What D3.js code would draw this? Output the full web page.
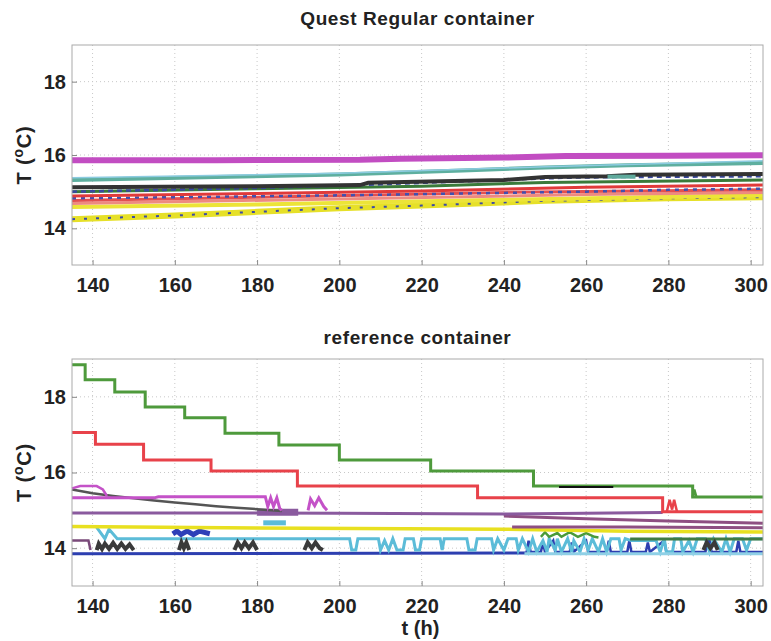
<!DOCTYPE html>
<html><head>
<meta charset="utf-8">
<title>Quest Regular vs reference container</title>
<script src="https://cdn.jsdelivr.net/npm/d3@7/dist/d3.min.js"></script>
<style>
  body { margin: 0; background: #fff; }
  svg text { font-family: "Liberation Sans", Arial, sans-serif; font-weight: bold; fill: #222; }
</style>
</head>
<body>
<svg id="chart" width="771" height="641"></svg>
<script>

// ---- data: [t (h), T (degC)] ----
const xTicks = [140, 160, 180, 200, 220, 240, 260, 280, 300];
const yTicks = [14, 16, 18];

// top panel: Quest Regular container
const qMagenta = [[135,15.86],[170,15.86],[205,15.87],[215,15.9],[240,15.93],[255,15.97],[280,15.98],[303,15.99]];
const qLightBlue = [[135,15.38],[200,15.5],[250,15.68],[303,15.84]];
const qTeal = [[135,15.32],[170,15.4],[200,15.47],[230,15.58],[250,15.66],[270,15.72],[303,15.78]];
const qBlack = [[135,15.12],[180,15.15],[205,15.18],[207,15.24],[240,15.32],[250,15.4],[265,15.42],[272,15.46],[303,15.48]];
const qTealBlock = [[265.2,15.41],[272,15.41]];
const qBlue1 = [[135,15.0],[180,15.1],[210,15.2],[240,15.32],[255,15.38],[270,15.4],[303,15.42]];
const qGreen = [[135,15.0],[180,15.08],[220,15.15],[250,15.25],[303,15.32]];
const qRed = [[135,14.88],[180,14.95],[220,15.02],[260,15.12],[303,15.18]];
const qBlue2 = [[135,14.82],[200,14.9],[260,15.0],[280,15.05],[303,15.08]];
const qRed2 = [[135,14.76],[180,14.85],[240,14.98],[303,15.05]];
const qPink = [[135,14.68],[200,14.8],[260,14.92],[303,14.98]];
const qYellow1 = [[135,14.58],[180,14.65],[240,14.78],[303,14.9]];
const qYellow2 = [[135,14.25],[160,14.35],[180,14.45],[200,14.55],[220,14.62],[250,14.75],[280,14.82],[303,14.85]];

// bottom panel: reference container
const rGreen = [[135,18.85],[138.2,18.45],[145.4,18.13],[152.8,17.73],[162.4,17.45],[172.2,17.04],[185.3,16.73],[200,16.33],[222.2,16.04],[247.2,15.64],[285.9,15.35],[303,15.35]];
const rGreenSpike = [[285.9,15.35],[286.3,15.55],[286.8,15.35]];
const rBlackSeg = [[253.4,15.62],[266.6,15.62]];
const rRed = [[135,17.06],[140.7,16.75],[152.4,16.33],[168.8,16.04],[189.8,15.64],[233.6,15.33],[278.6,14.96],[303,14.96]];
const rRedSpike = [[279.6,14.96],[280.3,15.28],[280.9,15.02],[281.4,15.28],[282.1,14.96]];
const rMagentaTop = [[135,15.58],[137,15.64],[141,15.64],[142.5,15.55],[143.5,15.38]];
const rMagenta = [[135,15.33],[143.5,15.33],[155,15.33],[156,15.36],[182,15.36],[182.6,15.1],[183.3,15.33],[184,15.1],[184.8,15.33],[185.5,15.05],[186,15.0]];
const rMagentaM = [[192.4,15.0],[193,15.3],[194,15.12],[195,15.33],[196.2,15.1],[197,15.0]];
const rGray = [[135,15.55],[140,15.45],[145,15.38],[150,15.32],[155,15.26],[160,15.21],[165,15.16],[170,15.11],[175,15.07],[180,15.03],[186,14.98]];
const rPurple1 = [[135,14.93],[180,14.93],[200,14.92],[240,14.9],[278.6,14.94]];
const rPurpleBlob = [[180,14.95],[190,14.95]];
const rPurple2 = [[240,14.85],[260,14.78],[280,14.72],[303,14.66]];
const rPurple3 = [[242,14.56],[270,14.56],[303,14.54]];
const rYellow = [[135,14.57],[180,14.53],[240,14.5],[270,14.45],[303,14.43]];
const rCyanBlock = [[181.5,14.67],[187,14.67]];
const rCyan = [[141,14.55],[143,14.25],[144,14.5],[146,14.25],[160,14.25],[202.5,14.25],[203,13.95],[204,13.95],[204.5,14.25],
  [209.5,14.25],[210,13.95],[211,14.2],[212,13.95],[213,14.25],[214,13.95],[215.5,13.95],[216,14.25],[218,14.25],[218.5,13.95],
  [219.5,13.95],[220,14.25],[224.5,14.25],[225,13.95],[225.5,14.25],[231,14.25],[231.5,13.95],[233,13.95],[233.5,14.25],
  [237,14.25],[237.5,13.95],[238.5,14.25],[240,13.95],[241,14.25],[243,14.25],[243.5,13.95],[244.5,14.25],
  [246,13.9],[247,14.25],[248,13.9],[249.5,14.2],[250.5,13.9],[251,14.25],[252.5,13.95],[253,14.25],[254,13.9],[255.5,14.25],
  [256.5,13.9],[257,14.2],[258.5,13.9],[259.5,14.25],[260.5,13.95],[261.5,14.25],[263,13.9],[264,14.25],[265,13.9],[266,14.25],
  [268,14.25],[268.5,13.95],[269.5,14.25],[271,14.2],[277,14.2],[278,13.9],[279,14.25],[279.5,13.9],[281,13.9],[281.5,14.25],
  [283,14.25],[283.5,13.9],[285,14.2],[286,13.9],[287,14.25],[289,14.25],[290,13.9],[291,14.25],[293,13.9],[294,14.25],
  [295,13.9],[296,14.25],[298,14.25],[299,13.95],[300,14.25],[303,14.25]];
const rBlueBlock = [[159.5,14.38],[160.5,14.45],[161.5,14.36],[163,14.45],[164.5,14.36],[166,14.45],[168.5,14.38]];
const rBlue = [[135,13.85],[245.5,13.87]];
const rBlueNoise = [[245.5,13.87],[246,14.2],[246.5,13.9],[249,13.9],[249.5,14.15],[250,13.9],[252,14.2],[252.5,13.9],
  [256,13.9],[256.5,14.15],[257,13.9],[260,14.2],[260.5,13.9],[265,13.9],[265.5,14.2],[266,13.9],[270,13.9],[270.5,14.2],
  [271,13.9],[274.5,13.9],[275,14.15],[275.5,13.9],[279,14.2],[279.5,13.9],[289,13.9],[289.5,14.2],[290,14.2],[290.5,13.9],
  [296.5,13.9],[297,14.2],[297.5,13.9],[303,13.9]];
const rCyanBase = [[245,13.85],[303,13.85]];
const rGreenNoise = [[249,14.3],[250,14.42],[251,14.3],[253,14.4],[254,14.3],[256,14.42],[258,14.3],[260,14.4],[262,14.3],[263,14.28]];
const rDarkGreen = [[270.7,14.24],[303,14.24]];
const rDarkPurple = [[135,14.2],[139,14.2],[139.5,13.95]];
const rBlack1 = [[141,13.95],[141.5,14.12],[142.3,13.98],[143,14.12],[144,13.98],[145,14.14],[146,13.98],[147,14.12],[148,13.98],[149,14.1],[150,13.95]];
const rBlack2 = [[161,13.95],[161.6,14.15],[162.2,14.0],[162.8,14.15],[163.5,13.95]];
const rBlack3 = [[174.5,13.95],[175.3,14.15],[176.2,14.0],[177,14.15],[178,14.0],[179,14.15],[180,13.95]];
const rBlack4 = [[191.5,13.95],[192.3,14.15],[193.3,14.0],[194.2,14.15],[195.2,14.0],[196,13.95]];
const rBlack5 = [[288.5,13.95],[289.3,14.15],[290.2,14.0],[291.2,14.15],[292,13.95]];

// ---- layout ----
const svg = d3.select("#chart");
const left = 72, right = 763;
const x = d3.scaleLinear().domain([135, 303]).range([left, right]);

function drawPanel(top, bottom, title, titleY, series, xLabel) {
  const y = d3.scaleLinear().domain([13, 19]).range([bottom, top]);
  const g = svg.append("g");

  // grid
  g.selectAll(".gx").data(xTicks).enter().append("line")
    .attr("x1", d => x(d)).attr("x2", d => x(d)).attr("y1", top).attr("y2", bottom)
    .attr("stroke", "#c8c8c8").attr("stroke-dasharray", "1,3");
  g.selectAll(".gy").data(yTicks).enter().append("line")
    .attr("x1", left).attr("x2", right).attr("y1", d => y(d)).attr("y2", d => y(d))
    .attr("stroke", "#c8c8c8").attr("stroke-dasharray", "1,3");

  // lines
  series.forEach(function(s) {
    const line = d3.line().x(d => x(d[0])).y(d => y(d[1]))
      .curve(s.step ? d3.curveStepAfter : d3.curveLinear);
    g.append("path").datum(s.data)
      .attr("d", line)
      .attr("fill", "none")
      .attr("stroke", s.color)
      .attr("stroke-width", s.w)
      .attr("stroke-dasharray", s.dash || null)
      .attr("stroke-linejoin", "miter");
  });

  // frame
  g.append("rect").attr("x", left).attr("y", top).attr("width", right - left).attr("height", bottom - top)
    .attr("fill", "none").attr("stroke", "#aaaaaa").attr("stroke-width", 1);

  // axes with inward ticks
  const xAxis = d3.axisBottom(x).tickValues(xTicks).tickSize(-5).tickPadding(13).tickFormat(d3.format("d"));
  const yAxis = d3.axisLeft(y).tickValues(yTicks).tickSize(-5).tickPadding(6).tickFormat(d3.format("d"));
  const gx = g.append("g").attr("transform", "translate(0," + bottom + ")").call(xAxis);
  const gy = g.append("g").attr("transform", "translate(" + left + ",0)").call(yAxis);
  [gx, gy].forEach(function(a) {
    a.select(".domain").remove();
    a.selectAll(".tick line").attr("stroke", "#888");
    a.selectAll(".tick text").style("font-size", "20px").attr("fill", "#222");
  });

  // title
  g.append("text").attr("x", (left + right) / 2).attr("y", titleY)
    .attr("text-anchor", "middle").style("font-size", "19px").style("letter-spacing", "0.6px").text(title);

  // y label
  const yl = g.append("text")
    .attr("transform", "translate(31," + ((top + bottom) / 2) + ") rotate(-90)")
    .attr("text-anchor", "middle").style("font-size", "20px").style("letter-spacing", "0.8px");
  yl.append("tspan").text("T (");
  yl.append("tspan").attr("baseline-shift", "super").style("font-size", "14px").text("o");
  yl.append("tspan").text("C)");

  if (xLabel) {
    g.append("text").attr("x", (left + right) / 2 + 3).attr("y", bottom + 49)
      .attr("text-anchor", "middle").style("font-size", "20px").text(xLabel);
  }
}

drawPanel(45, 265, "Quest Regular container", 25, [
  {data: qYellow2, color: "#e6e028", w: 6},
  {data: qYellow2, color: "#3b4aa8", w: 2, dash: "3,9"},
  {data: qYellow1, color: "#ece438", w: 4},
  {data: qPink, color: "#ee8a80", w: 3},
  {data: qRed2, color: "#e25050", w: 3},
  {data: qBlue2, color: "#4050b0", w: 2.5, dash: "4,5"},
  {data: qRed, color: "#e03a3a", w: 3},
  {data: qGreen, color: "#3a7a3a", w: 3},
  {data: qBlue1, color: "#3848a0", w: 2.5, dash: "5,4"},
  {data: qBlack, color: "#333333", w: 4},
  {data: qTealBlock, color: "#5faa9c", w: 4},
  {data: qTeal, color: "#5eaf9f", w: 4},
  {data: qLightBlue, color: "#8ccbe0", w: 1.5},
  {data: qMagenta, color: "#c24dc2", w: 6}
], null);

drawPanel(359, 586, "reference container", 344, [
  {data: rBlue, color: "#2d3fb0", w: 3},
  {data: rBlueNoise, color: "#2d3fb0", w: 2.5},
  {data: rCyan, color: "#5cbcd8", w: 3},
  {data: rCyanBase, color: "#8fd0e6", w: 3},
  {data: rBlueBlock, color: "#2d3fb8", w: 5},
  {data: rGreenNoise, color: "#4a9a3a", w: 2.5},
  {data: rDarkGreen, color: "#3f7a45", w: 3},
  {data: rDarkPurple, color: "#7a4a7a", w: 2.5},
  {data: rBlack1, color: "#3a3a3a", w: 4},
  {data: rBlack2, color: "#3a3a3a", w: 4},
  {data: rBlack3, color: "#3a3a3a", w: 4},
  {data: rBlack4, color: "#3a3a3a", w: 4},
  {data: rBlack5, color: "#3a3a3a", w: 4},
  {data: rCyanBlock, color: "#5cbcd8", w: 5},
  {data: rYellow, color: "#e8e020", w: 3.5},
  {data: rPurple3, color: "#8e4f82", w: 3},
  {data: rPurple2, color: "#8e4f82", w: 3},
  {data: rPurple1, color: "#8a5a9e", w: 3},
  {data: rPurpleBlob, color: "#8a5a9e", w: 7},
  {data: rGray, color: "#555555", w: 2.5},
  {data: rMagentaTop, color: "#c452c8", w: 2.5},
  {data: rMagenta, color: "#c452c8", w: 3},
  {data: rMagentaM, color: "#c452c8", w: 3},
  {data: rRed, color: "#e8424a", w: 3, step: true},
  {data: rRedSpike, color: "#e8424a", w: 2.5},
  {data: rGreen, color: "#4e9a3c", w: 3, step: true},
  {data: rGreenSpike, color: "#4e9a3c", w: 2.5},
  {data: rBlackSeg, color: "#111111", w: 2}
], "t (h)");

</script>
</body>
</html>
